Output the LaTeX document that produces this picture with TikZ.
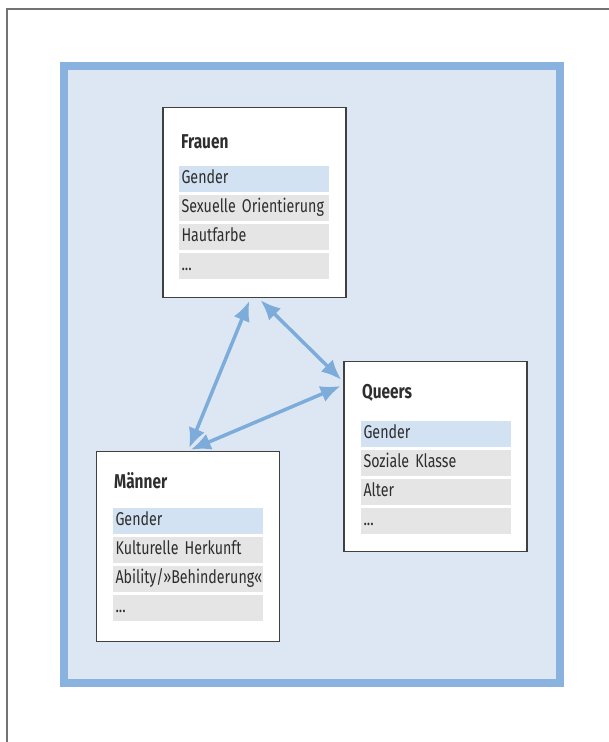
\documentclass[tikz,border=0pt]{standalone}
\usepackage{fontspec}
\setmainfont{Fira Sans}[FakeStretch=0.77]
\usetikzlibrary{arrows.meta}

\definecolor{frameblue}{HTML}{8AB2DE}
\definecolor{areablue}{HTML}{DCE7F3}
\definecolor{rowblue}{HTML}{D3E2F2}
\definecolor{rowgray}{HTML}{E5E5E5}
\definecolor{arrowblue}{HTML}{7DACDB}
\definecolor{textgray}{HTML}{2E2E2E}

\tikzset{
  head/.tip={Latex[length=20pt,width=17pt]},
  link/.style={head-head, draw=arrowblue, line width=3.5pt, shorten <=3pt, shorten >=3pt}
}

\begin{document}
\begin{tikzpicture}[x=1pt,y=-1pt]
  \tikzstyle{group} = [draw=black!75, line width=1.3pt, fill=white, minimum width=183pt, minimum height=190pt, inner sep=0pt]
  \tikzstyle{title} = [anchor=base west, inner sep=0pt, font=\fontsize{20}{22}\selectfont\bfseries, text=textgray]
  \tikzstyle{row} = [fill=rowgray, text width=145pt, align=left, inner xsep=2.5pt, inner ysep=0pt, minimum height=26pt, text height=13pt, text depth=4pt, font=\fontsize{18.5}{20}\selectfont, text=textgray]
  \tikzstyle{first} = [row, fill=rowblue]

  \useasboundingbox (0,0) rectangle (609,742);

  % outer frame and blue area
  \draw[black!55, line width=1.5pt] (609,9) -- (7,9) -- (7,742);
  \draw[draw=frameblue, fill=areablue, line width=8pt] (64,66) rectangle (560,683);

  % Frauen
  \node[group] (frauen) at (254.5,202.5) {};
  \node[title] (frauen-title) at (181,148) {Frauen};
  \node[first] (frauen-1) at (254,179) {Gender};
  \node[row] (frauen-2) at (254,208) {Sexuelle Orientierung};
  \node[row] (frauen-3) at (254,237) {Hautfarbe};
  \node[row] (frauen-4) at (254,266) {...};

  % Maenner
  \node[group] (maenner) at (188,546.5) {};
  \node[title] (maenner-title) at (114,488) {Männer};
  \node[first] (maenner-1) at (188,521) {Gender};
  \node[row] (maenner-2) at (188,550) {Kulturelle Herkunft};
  \node[row] (maenner-3) at (188,579) {Ability/»Behinderung«};
  \node[row] (maenner-4) at (188,608) {...};

  % Queers
  \node[group] (queers) at (435.5,456.5) {};
  \node[title] (queers-title) at (362,398) {Queers};
  \node[first] (queers-1) at (436,433.5) {Gender};
  \node[row] (queers-2) at (436,462.5) {Soziale Klasse};
  \node[row] (queers-3) at (436,491.5) {Alter};
  \node[row] (queers-4) at (436,520.5) {...};

  \draw[link] ([xshift=-4pt]frauen.south) -- (maenner.north);
  \draw[link] ([xshift=4pt]frauen.south) -- ([yshift=-21pt]queers.north west);
  \draw[link] ([yshift=-24pt]queers.north west) -- (maenner.north);
\end{tikzpicture}
\end{document}
